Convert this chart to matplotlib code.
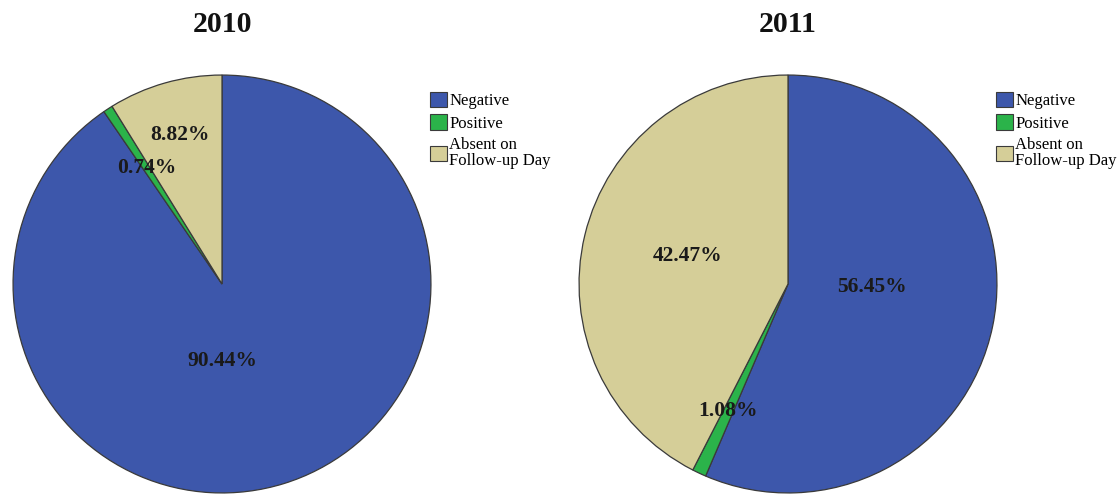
import numpy as np
import matplotlib
matplotlib.use("Agg")
import matplotlib.pyplot as plt
from matplotlib.patches import Patch

categories = ["Negative", "Positive", "Absent on\nFollow-up Day"]
years = ["2010", "2011"]
pct_2010 = [90.44, 0.74, 8.82]
pct_2011 = [56.45, 1.08, 42.47]

colors = ["#3d57ab", "#2bb34a", "#d5ce98"]
edge = "#3a3a3a"

# label placement per wedge: radius fraction and angle nudge (degrees)
lab_r = {"2010": [0.37, 0.66, 0.74], "2011": [0.40, 0.67, 0.50]}
lab_da = {"2010": [-17, 0, 0], "2011": [9.6, 0, -2]}

plt.rcParams['font.family'] = ['Liberation Serif', 'DejaVu Serif']

W, H = 1118, 495
fig = plt.figure(figsize=(W / 100, H / 100), dpi=100)

def draw(ax, vals, year):
    wedges, _ = ax.pie(vals, colors=colors, startangle=90, counterclock=False,
                       radius=1.0, center=(0, 0),
                       wedgeprops=dict(edgecolor=edge, linewidth=0.9))
    for w, v, r, da in zip(wedges, vals, lab_r[year], lab_da[year]):
        mid = np.deg2rad((w.theta1 + w.theta2) / 2 + da)
        ax.text(r * np.cos(mid), r * np.sin(mid), "%.2f%%" % v,
                ha="center", va="center", fontsize=15.5, fontweight="bold",
                color="#1a1a1a")
    ax.set_xlim(-1.005, 1.005)
    ax.set_ylim(-1.005, 1.005)
    ax.set_aspect("equal")
    ax.axis("off")

handles = [Patch(facecolor=c, edgecolor=edge, linewidth=0.8) for c in colors]

for year, vals, x0, lx in [("2010", pct_2010, 12, 430), ("2011", pct_2011, 578, 996)]:
    ax = fig.add_axes([x0 / W, 0.5 / H, 420 / W, 421 / H])
    draw(ax, vals, year)
    fig.text((x0 + 210) / W, 1 - 25 / H, year, ha="center", va="center",
             fontsize=21.5, fontweight="bold", color="#111111")
    leg = fig.legend(handles, categories, loc="upper left",
                     bbox_to_anchor=(lx / W, 1 - 92 / H), frameon=False,
                     fontsize=12, handlelength=1.0, handleheight=1.05,
                     handletextpad=0.15, labelspacing=0.3, borderpad=0,
                     borderaxespad=0)
    for t in leg.get_texts():
        t.set_linespacing(1.05)

fig.savefig("out.png", dpi=100)
